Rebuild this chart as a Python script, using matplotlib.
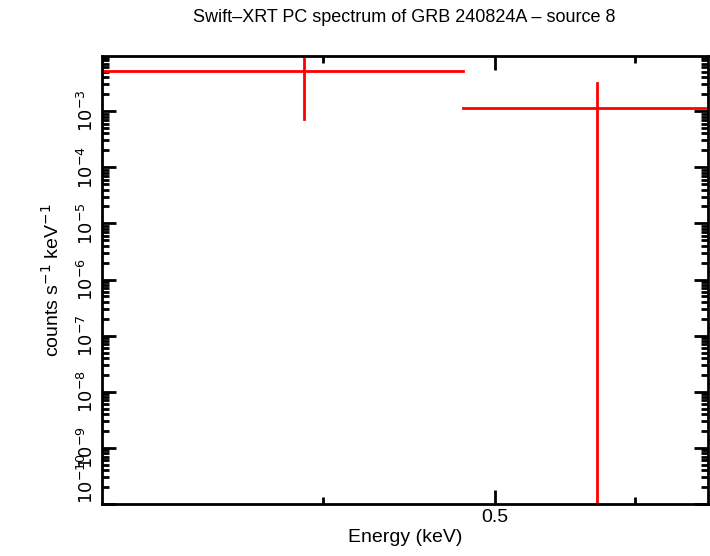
import matplotlib
matplotlib.use("Agg")
import matplotlib.pyplot as plt
from matplotlib.ticker import FixedLocator, FixedFormatter, NullFormatter, LogLocator

plt.rcParams["font.family"] = "Liberation Sans"

# spectrum bins (keV) and rates
e_lo = [0.30, 0.48]
e_hi = [0.48, 0.70]
e_mid = [0.39, 0.571]
rate = [5.2e-3, 1.13e-3]
err_lo = [4.48e-3, 1.13e-3 - 1e-12]
err_hi = [5.0e-3, 2.1e-3]
y_ticks = [1e-10, 1e-9, 1e-8, 1e-7, 1e-6, 1e-5, 1e-4, 1e-3]
y_labels = [f"$10^{{{e}}}$" for e in range(-10, -2)]

fig = plt.figure(figsize=(7.10, 5.56), dpi=100)
ax = fig.add_axes([102 / 710, 1 - 504 / 556, 606 / 710, 448 / 556])

for lo, hi, mid, r, el, eh in zip(e_lo, e_hi, e_mid, rate, err_lo, err_hi):
    ax.plot([lo, hi], [r, r], color="red", lw=2)
    ax.plot([mid, mid], [r - el, r + eh], color="red", lw=2)

ax.set_xscale("log")
ax.set_yscale("log")
ax.set_xlim(0.30, 0.66)
ax.set_ylim(1e-10, 9.6e-3)

ax.xaxis.set_major_locator(FixedLocator([0.5]))
ax.xaxis.set_minor_locator(FixedLocator([0.4, 0.6]))
ax.xaxis.set_major_formatter(FixedFormatter(["0.5"]))
ax.xaxis.set_minor_formatter(NullFormatter())
ax.yaxis.set_major_locator(FixedLocator(y_ticks))
ax.yaxis.set_major_formatter(FixedFormatter(y_labels))
ax.yaxis.set_minor_locator(LogLocator(base=10, subs=range(2, 10), numticks=20))
ax.yaxis.set_minor_formatter(NullFormatter())

ax.tick_params(which="both", direction="in", top=True, right=True, width=2, labelsize=13)
ax.tick_params(axis="x", labelsize=14)
ax.tick_params(which="major", length=10)
ax.tick_params(which="minor", length=5)
ax.tick_params(axis="y", labelrotation=90)
labels = ax.get_yticklabels()
for i, lbl in enumerate(labels):
    lbl.set_va("bottom" if i == 0 else "center")
for s in ax.spines.values():
    s.set_linewidth(2)

ax.set_xlabel("Energy (keV)", fontsize=14, labelpad=2)
ax.set_ylabel("counts s$^{-1}$ keV$^{-1}$", fontsize=14, labelpad=10)
fig.text(0.57, 1 - 18 / 556, "Swift\u2013XRT PC spectrum of GRB 240824A \u2013 source 8",
         ha="center", va="center", fontsize=13)

fig.savefig("out.png", dpi=100)
